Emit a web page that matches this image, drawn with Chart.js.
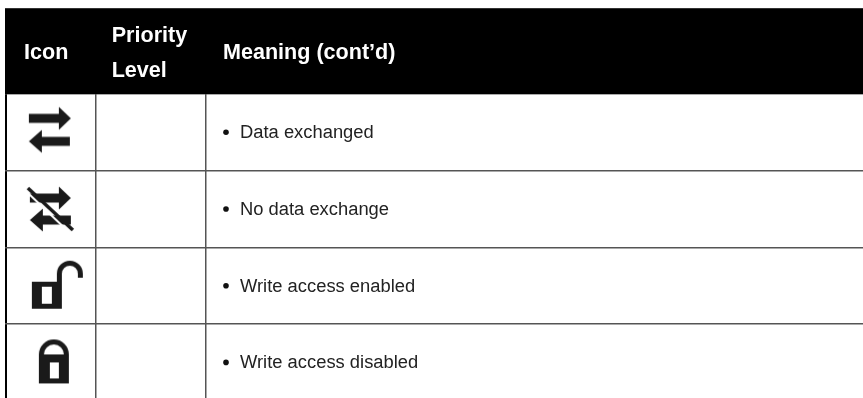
<!DOCTYPE html>
<html>
<head>
<meta charset="utf-8">
<title>Icon table</title>
<script src="https://cdn.jsdelivr.net/npm/chart.js@4"></script>
<style>
  html, body { margin: 0; padding: 0; background: #fff; }
  canvas { display: block; }
</style>
</head>
<body>
<canvas id="tableChart" width="863" height="398"></canvas>
<script>
// table contents
const headerLabels = [['Icon'], ['Priority', 'Level'], ['Meaning (cont’d)']];
const meanings = ['Data exchanged', 'No data exchange', 'Write access enabled', 'Write access disabled'];
const iconNames = ['exchange', 'noExchange', 'unlocked', 'locked'];
const rowCentres = [0.5, 1.5, 2.5, 3.5];
const rowEdges = [0, 1, 2, 3];
const columnEdges = [6, 95.7, 206];

// icons are drawn around the middle of a 70x70 canvas
function makeIcon(draw) {
  const c = document.createElement('canvas');
  c.width = 70;
  c.height = 70;
  const g = c.getContext('2d');
  g.translate(35, 35);
  g.fillStyle = '#1a1a1a';
  g.strokeStyle = '#1a1a1a';
  draw(g);
  return c;
}

function poly(g, pts) {
  g.beginPath();
  pts.forEach((p, i) => i ? g.lineTo(p[0], p[1]) : g.moveTo(p[0], p[1]));
  g.closePath();
  g.fill();
}

function rightArrow(g, x0, x1, y) {
  poly(g, [[x0, y - 4.5], [x1 - 12, y - 4.5], [x1 - 12, y - 11.5], [x1, y], [x1 - 12, y + 11.5], [x1 - 12, y + 4.5], [x0, y + 4.5]]);
}

function leftArrow(g, x0, x1, y) {
  poly(g, [[x1, y - 4.5], [x0 + 13, y - 4.5], [x0 + 13, y - 11.5], [x0, y], [x0 + 13, y + 11.5], [x0 + 13, y + 4.5], [x1, y + 4.5]]);
}

const iconDrawers = {
  exchange(g) {
    rightArrow(g, -22, 20, -14);
    leftArrow(g, -22, 19, 9);
  },
  noExchange(g) {
    rightArrow(g, -21, 20, -11);
    leftArrow(g, -21, 20, 11);
    g.lineCap = 'butt';
    g.strokeStyle = '#fff';
    g.lineWidth = 2;
    g.beginPath();
    g.moveTo(-25, -18);
    g.lineTo(19, 24);
    g.stroke();
    g.strokeStyle = '#1a1a1a';
    g.lineWidth = 3.5;
    g.beginPath();
    g.moveTo(-23, -21);
    g.lineTo(22, 21);
    g.stroke();
  },
  unlocked(g) {
    g.fillRect(-19, -4, 30, 27);
    g.clearRect(-9, 1, 10, 17);
    g.lineWidth = 5;
    g.beginPath();
    g.moveTo(8.5, -4);
    g.lineTo(8.5, -12);
    g.arc(19, -12, 10.5, Math.PI, 0);
    g.lineTo(29.5, -8);
    g.stroke();
  },
  locked(g) {
    g.lineWidth = 5;
    g.beginPath();
    g.moveTo(-9, -7);
    g.arc(3, -8, 12.5, Math.PI, 0);
    g.lineTo(15.5, -7);
    g.stroke();
    g.fillRect(-12, -8, 30, 29);
    g.clearRect(-1, 0, 9, 16);
  }
};
const iconImages = iconNames.map(n => makeIcon(iconDrawers[n]));

function stretchedText(ctx, text, left, mid, sx) {
  ctx.save();
  ctx.translate(left, mid);
  ctx.scale(sx, 1);
  ctx.fillText(text, 0, 0);
  ctx.restore();
}

// text goes through the chart's own scales
const tableText = {
  id: 'tableText',
  afterDraw(chart) {
    const { ctx, scales: { x, y } } = chart;
    ctx.save();
    ctx.textBaseline = 'middle';
    ctx.textAlign = 'left';

    ctx.fillStyle = '#fff';
    ctx.font = 'bold 22px "Liberation Sans", sans-serif';
    const headerOffsets = [18, 16, 17];
    const headerMiddle = (y.top + y.getPixelForValue(0)) / 2 + 2;
    headerLabels.forEach((lines, i) => {
      const left = x.getPixelForValue(columnEdges[i]) + headerOffsets[i];
      lines.forEach((line, j) => {
        stretchedText(ctx, line, left, headerMiddle + (j - (lines.length - 1) / 2) * 35, 0.98);
      });
    });

    ctx.fillStyle = '#222';
    ctx.font = '18px "Liberation Sans", sans-serif';
    meanings.forEach((m, i) => {
      stretchedText(ctx, m, x.getPixelForValue(columnEdges[2]) + 34, y.getPixelForValue(rowCentres[i]) + 1, 1.02);
    });
    ctx.restore();
  }
};

new Chart(document.getElementById('tableChart'), {
  type: 'scatter',
  data: {
    datasets: [
      // bullets in the meaning column
      {
        label: 'Bullets',
        data: rowCentres.map(r => ({ x: columnEdges[2] + 20, y: r })),
        pointStyle: 'circle',
        pointRadius: 2.8,
        backgroundColor: '#111',
        borderWidth: 0
      },
      // icons in the first column
      {
        label: 'Icons',
        data: rowCentres.map(r => ({ x: (columnEdges[0] + columnEdges[1]) / 2, y: r })),
        pointStyle: iconImages,
        pointRadius: 10
      },
      // black header band
      {
        type: 'line',
        label: 'Header',
        data: [{ x: 5, y: -1.121 }, { x: 863, y: -1.121 }],
        fill: { value: 0 },
        backgroundColor: '#000',
        borderColor: '#666',
        borderWidth: 1,
        pointRadius: 0
      }
    ]
  },
  options: {
    responsive: false,
    animation: false,
    events: [],
    layout: { autoPadding: false, padding: { left: 5, top: 8, right: 0, bottom: 0 } },
    plugins: { legend: { display: false }, tooltip: { enabled: false } },
    scales: {
      x: {
        type: 'linear',
        min: 5,
        max: 863,
        afterBuildTicks: axis => { axis.ticks = columnEdges.map(v => ({ value: v })); },
        ticks: { display: false, autoSkip: false },
        border: { display: false },
        grid: {
          drawTicks: false,
          color: ctx => ctx.index === 0 ? '#000' : '#555',
          lineWidth: ctx => ctx.index === 0 ? 2 : 1.5
        }
      },
      y: {
        type: 'linear',
        reverse: true,
        min: -1.121,
        max: 3.964,
        afterBuildTicks: axis => { axis.ticks = rowEdges.map(v => ({ value: v })); },
        ticks: { display: false, autoSkip: false },
        border: { display: false },
        grid: { drawTicks: false, color: '#555', lineWidth: 1.5 }
      }
    }
  },
  plugins: [tableText]
});
</script>
</body>
</html>
